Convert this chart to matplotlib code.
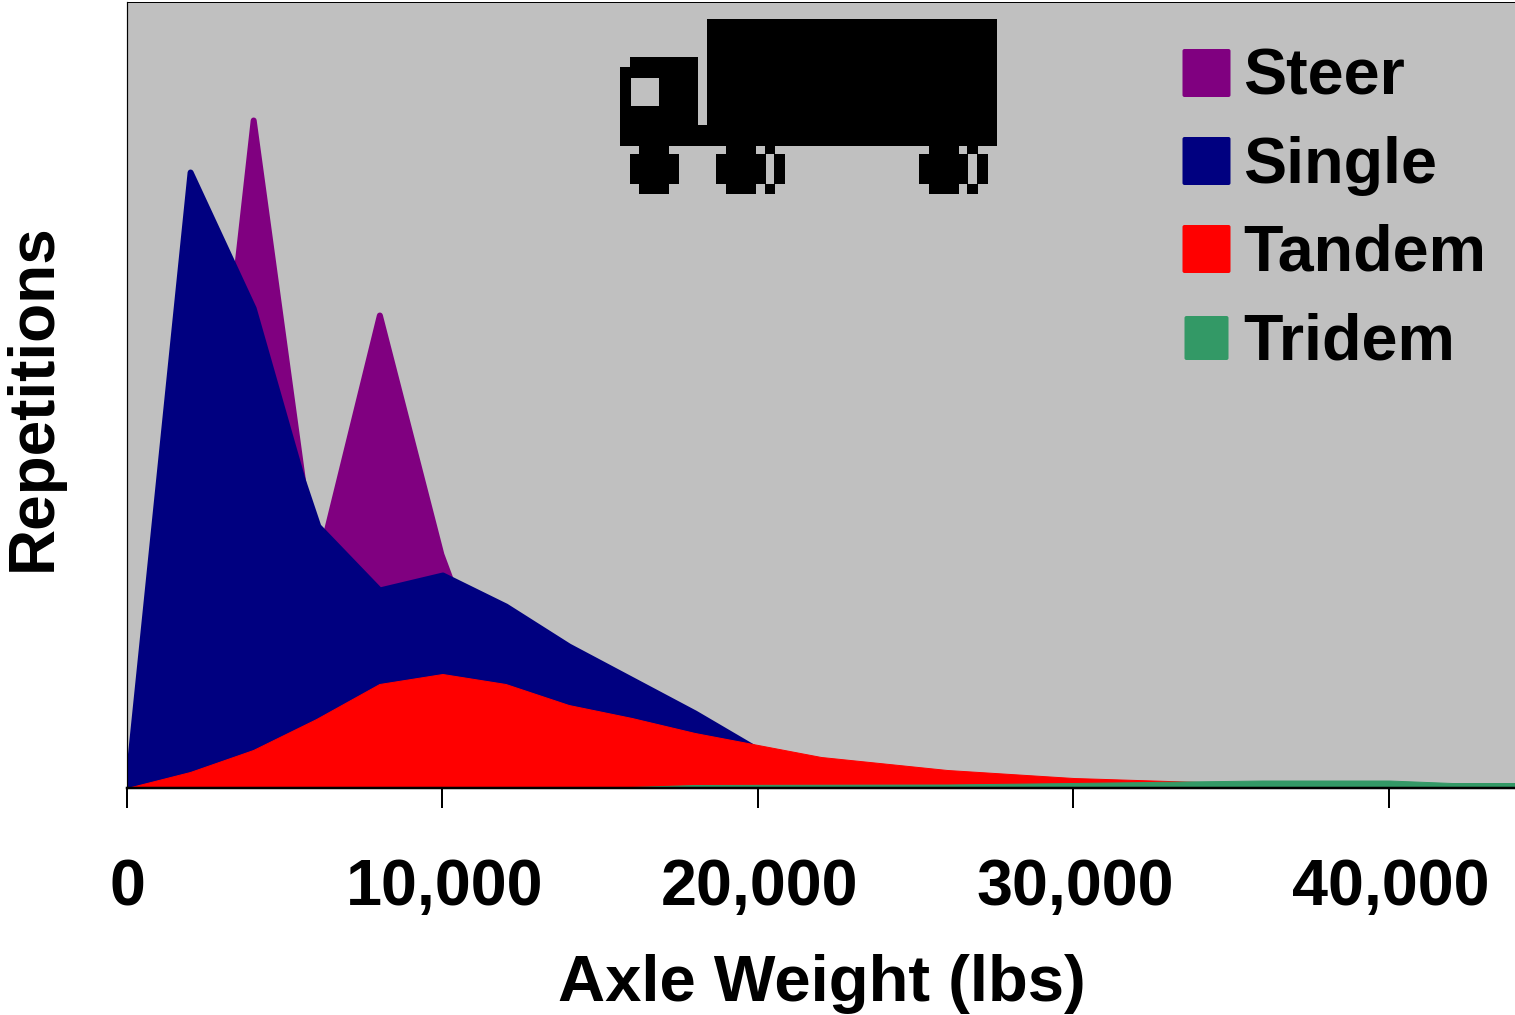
import matplotlib
matplotlib.use('Agg')
import matplotlib.pyplot as plt
from matplotlib.patches import FancyBboxPatch, Rectangle
from matplotlib.ticker import FuncFormatter
from matplotlib.transforms import Affine2D, ScaledTranslation

plt.rcParams['font.family'] = ['Liberation Sans', 'DejaVu Sans']
plt.rcParams['font.weight'] = 'bold'

W, H = 1515, 1015
PT = 72 / 100  # one pixel in points at dpi 100

# values, y has no scale in the original (plot height = 786)
steer_x = [0, 2000, 4000, 5900, 6300, 8000, 9950, 12000, 14000, 16000, 18000, 20000, 24000]
steer_y = [0, 103, 668, 230, 255, 473, 234, 60, 40, 25, 15, 10, 0]

single_x = [0, 2000, 4000, 5550, 6050, 8000, 10000, 12000, 14000, 18000, 20000, 22000, 26000, 30000]
single_y = [0, 616, 480, 309, 262, 198, 213, 182, 142, 75, 38, 15, 5, 0]

tandem_x = [0, 2000, 4000, 6000, 8000, 10000, 12000, 14000, 16000, 18000, 20000, 22000, 26000, 30000, 34000, 38000, 44000]
tandem_y = [0, 16, 38, 69, 104, 114, 104, 83, 70, 55, 43, 31, 18, 10, 6, 3, 2]

tridem_x = [0, 16000, 18000, 26000, 30000, 36000, 40000, 42000, 44000]
tridem_y = [1, 1, 3, 3.5, 5, 7.5, 7.5, 5, 5]

series_names = ['Steer', 'Single', 'Tandem', 'Tridem']
series_colors = ['#800080', '#000080', '#ff0000', '#339966']
x_ticks = [0, 10000, 20000, 30000, 40000]

# truck pixel art: x0, x1, y0, y1 in image pixels
truck_black = [
    (707, 997, 19, 146), (698, 707, 125, 146), (630, 698, 57, 146), (620, 630, 67, 146),
    (639, 669, 146, 194), (630, 679, 154, 184),
    (726, 756, 146, 194), (716, 766, 154, 184),
    (765, 775, 146, 154), (765, 775, 184, 194), (774, 785, 154, 184),
    (929, 959, 146, 194), (919, 968, 154, 184),
    (967, 978, 146, 154), (967, 978, 184, 194), (977, 988, 154, 184),
]
truck_window = (631, 659, 78, 106)

legend_rows = [73, 161, 249, 338]

fig = plt.figure(figsize=(W / 100, H / 100), dpi=100, facecolor='white')
ax = fig.add_axes([127 / W, 1 - 788 / H, (W - 127) / W, 786 / H])
ax.set_facecolor('#c0c0c0')
ax.set_xlim(0, 44000)
ax.set_ylim(0, 786)

all_x = [steer_x, single_x, tandem_x, tridem_x]
all_y = [steer_y, single_y, tandem_y, tridem_y]
for x, y, c, lw in zip(all_x, all_y, series_colors, [6, 6, 1, 1]):
    ax.fill_between(x, y, 0, color=c, lw=lw * PT, joinstyle='round')

ax.set_yticks([])
ax.set_xticks(x_ticks)
ax.xaxis.set_major_formatter(FuncFormatter(lambda v, p: f'{int(v):,}'))
ax.tick_params(axis='x', length=20 * PT, width=2 * PT, pad=36, labelsize=46.5)
# the wide labels sit a little right of their ticks
for lbl in ax.get_xticklabels()[1:]:
    lbl.set_transform(lbl.get_transform() + ScaledTranslation(2 / 100, 0, fig.dpi_scale_trans))
ax.spines['right'].set_visible(False)
ax.spines['left'].set_linewidth(1.2 * PT)
ax.spines['top'].set_linewidth(1 * PT)
ax.spines['bottom'].set_linewidth(2.5 * PT)

ax.set_xlabel('Axle Weight (lbs)', fontsize=47, fontweight='bold')
ax.xaxis.set_label_coords((822 - 127) / (W - 127), (788 - 984) / 786)
ax.xaxis.label.set_va('center')
ax.set_ylabel('Repetitions', fontsize=46, fontweight='bold')
ax.yaxis.set_label_coords((34 - 127) / (W - 127), (788 - 397) / 786)
ax.yaxis.label.set_va('center')

# everything below is placed in image pixels
px = Affine2D().scale(1, -1).translate(0, H)

for x0, x1, y0, y1 in truck_black:
    fig.add_artist(Rectangle((x0, y0), x1 - x0, y1 - y0, transform=px, fc='black', ec='none', antialiased=False))
x0, x1, y0, y1 = truck_window
fig.add_artist(Rectangle((x0, y0), x1 - x0, y1 - y0, transform=px, fc='#c0c0c0', ec='none', antialiased=False))

for name, c, row in zip(series_names, series_colors, legend_rows):
    half = 22 if name == 'Tridem' else 24
    fig.add_artist(FancyBboxPatch((1206.5 - half + 2, row - half + 2), 2 * half - 4, 2 * half - 4,
                                  boxstyle='round,pad=2,rounding_size=2', transform=px, fc=c, ec='none'))
    fig.text(1243 / W, 1 - (row - 2) / H, name, fontsize=46.5, fontweight='bold', va='center_baseline', ha='left')

fig.savefig('out.png', dpi=100)
